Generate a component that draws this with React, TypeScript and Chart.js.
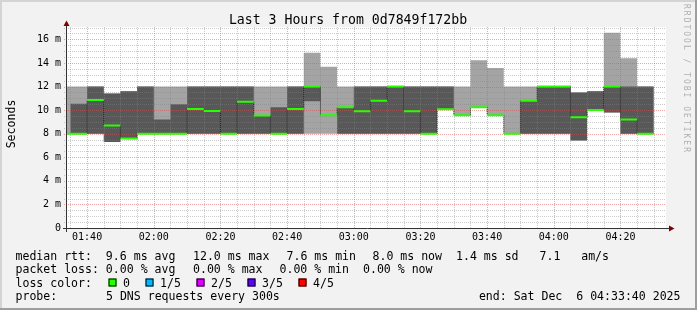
import React, { useEffect, useRef } from 'react';
import { Chart, registerables } from 'chart.js';

Chart.register(...registerables);

// ---------- text ----------
const TITLE = 'Last 3 Hours from 0d7849f172bb';
const Y_TITLE = 'Seconds';
const WATERMARK = 'RRDTOOL / TOBI OETIKER';

// ---------- time frame ----------
const viewStart = '01:33:40';
const viewEnd = '04:33:40';
const dataEnd = '04:30';

// start time of each 5-minute step
const stepStarts = [
  '01:33:40', '01:35', '01:40', '01:45', '01:50', '01:55',
  '02:00', '02:05', '02:10', '02:15', '02:20', '02:25',
  '02:30', '02:35', '02:40', '02:45', '02:50', '02:55',
  '03:00', '03:05', '03:10', '03:15', '03:20', '03:25',
  '03:30', '03:35', '03:40', '03:45', '03:50', '03:55',
  '04:00', '04:05', '04:10', '04:15', '04:20', '04:25',
];

// sorted ping values per step (ms): lowest, 2nd, median, 4th, highest
const pingMin = [8, 8, 8, 7.3, 7.55, 8, 8, 8, 8, 8, 8, 8, 8, 8, 8, 8, 8, 8, 8, 8, 8, 8, 8, 10.07, 9.56, 10.25, 9.56, 8, 8, 8, 8, 7.43, 10.0, 9.8, 8, 8];
const ping2 = [8, 8, 8, 7.3, 7.55, 8, 8, 8, 8, 8, 8, 8, 8, 8, 8, 10.75, 9.56, 8, 8, 8, 8, 8, 8, 10.07, 9.56, 10.25, 9.56, 8, 8, 8, 8, 7.43, 10.0, 9.8, 8, 8];
const median = [8, 8, 10.85, 8.7, 7.6, 8, 8, 8, 10.1, 9.93, 8, 10.7, 9.55, 8, 10.1, 12, 9.56, 10.25, 9.9, 10.8, 12, 9.9, 8, 10.07, 9.56, 10.25, 9.56, 8, 10.8, 12, 12, 9.4, 10.0, 12, 9.2, 8];
const ping4 = [8, 10.55, 12, 11.4, 11.6, 12, 9.2, 10.5, 12, 12, 12, 12, 9.55, 10.24, 12, 12, 9.56, 10.25, 12, 12, 12, 12, 12, 12, 9.56, 10.25, 9.56, 8, 10.8, 12, 12, 11.5, 11.6, 12, 12, 12];
const pingMax = [12, 12, 12, 11.4, 11.6, 12, 12, 12, 12, 12, 12, 12, 12, 12, 12, 14.86, 13.67, 12, 12, 12, 12, 12, 12, 12, 12, 14.24, 13.58, 12, 12, 12, 12, 11.5, 11.6, 16.56, 14.4, 12];

// ---------- axes ----------
const xTickLabels = ['01:40', '02:00', '02:20', '02:40', '03:00', '03:20', '03:40', '04:00', '04:20'];
const yTickLabels = ['0', '2 m', '4 m', '6 m', '8 m', '10 m', '12 m', '14 m', '16 m'];
const yMax = 17.05;

// ---------- legend ----------
const lossColors = ['#26ff00', '#00b8ff', '#dd00ff', '#5e00ff', '#ff0000'];
const lossLabels = ['0', '1/5', '2/5', '3/5', '4/5'];
const rttItems = ['median rtt:  9.6 ms avg', '12.0 ms max', '7.6 ms min', '8.0 ms now', '1.4 ms sd', '7.1   am/s'];
const lossItems = ['packet loss: 0.00 % avg', '0.00 % max', '0.00 % min', '0.00 % now'];
const lossColorTitle = 'loss color:';
const probeItems = ['probe:', '5 DNS requests every 300s'];
const endText = 'end: Sat Dec  6 04:33:40 2025';

// ---------- helpers ----------
const toMin = (s: string) => {
  const p = s.split(':').map(Number);
  return p[0] * 60 + p[1] + (p[2] || 0) / 60;
};
const fmt = (v: number) => {
  const h = Math.floor(v / 60);
  const m = Math.round(v - h * 60);
  return String(h).padStart(2, '0') + ':' + String(m).padStart(2, '0');
};

const xs = stepStarts.map(toMin);
const xEndData = toMin(dataEnd);

const stepSeries = (vals: number[]) => {
  const pts = xs.map((x, i) => ({ x, y: vals[i] }));
  pts.push({ x: xEndData, y: vals[vals.length - 1] });
  return pts;
};

// horizontal pieces only
const segSeries = (vals: number[]) => {
  const pts: { x: number; y: number | null }[] = [];
  xs.forEach((x, i) => {
    const end = i + 1 < xs.length ? xs[i + 1] : xEndData;
    pts.push({ x, y: vals[i] });
    pts.push({ x: end, y: vals[i] });
    pts.push({ x: end, y: null });
  });
  return pts;
};

// vertical joins only, where the value changes between steps
const riseSeries = (vals: number[]) => {
  const pts: { x: number; y: number | null }[] = [];
  for (let i = 1; i < xs.length; i++) {
    if (vals[i] === vals[i - 1]) continue;
    pts.push({ x: xs[i], y: vals[i - 1] });
    pts.push({ x: xs[i], y: vals[i] });
    pts.push({ x: xs[i], y: null });
  }
  return pts;
};

const MONO = '"DejaVu Sans Mono", monospace';
const MAJOR_GRID = 'rgba(222,80,80,0.5)';
const MINOR_GRID = 'rgba(130,130,130,0.42)';

const drawGrid = (chart: any) => {
  const { ctx, chartArea: a } = chart;
  const sx = chart.scales.x;
  const sy = chart.scales.y;
  ctx.save();
  ctx.lineWidth = 1;
  ctx.setLineDash([1, 1]);
  [false, true].forEach((major) => {
    sx.ticks.forEach((t: any) => {
      const isMajor = t.value % 20 === 0;
      if (isMajor !== major) return;
      const px = Math.round(sx.getPixelForValue(t.value)) + 0.5;
      ctx.strokeStyle = isMajor ? MAJOR_GRID : MINOR_GRID;
      ctx.beginPath();
      ctx.moveTo(px, a.top);
      ctx.lineTo(px, a.bottom);
      ctx.stroke();
    });
    sy.ticks.forEach((t: any) => {
      if (t.value === 0) return;
      const isMajor = t.value % 2 === 0;
      if (isMajor !== major) return;
      const py = Math.round(sy.getPixelForValue(t.value)) + 0.5;
      ctx.strokeStyle = isMajor ? MAJOR_GRID : MINOR_GRID;
      ctx.beginPath();
      ctx.moveTo(a.left - 2, py);
      ctx.lineTo(a.right, py);
      ctx.stroke();
    });
  });
  ctx.restore();
};

const rrdPlugin = {
  id: 'rrdLook',
  beforeDraw(chart: any) {
    const { ctx, chartArea: a, width, height } = chart;
    ctx.save();
    ctx.fillStyle = '#f2f2f2';
    ctx.fillRect(0, 0, width, height);
    ctx.fillStyle = '#d4d4d4';
    ctx.fillRect(0, 0, width, 2);
    ctx.fillRect(0, 0, 2, height);
    ctx.fillStyle = '#9e9e9e';
    ctx.fillRect(0, height - 2, width, 2);
    ctx.fillRect(width - 2, 0, 2, height);
    ctx.fillStyle = '#ffffff';
    ctx.fillRect(a.left, a.top, a.right - a.left, a.bottom - a.top);
    ctx.restore();
  },
  afterDatasetDraw(chart: any, args: any) {
    // grid goes over the smoke bands, under the median lines
    if (args.index === 2) drawGrid(chart);
  },
  afterDraw(chart: any) {
    const { ctx, chartArea: a } = chart;
    ctx.save();
    // axes
    ctx.strokeStyle = '#333333';
    ctx.lineWidth = 1;
    ctx.beginPath();
    ctx.moveTo(a.left - 3, a.bottom + 0.5);
    ctx.lineTo(a.right + 6, a.bottom + 0.5);
    ctx.moveTo(a.left + 0.5, a.bottom + 4);
    ctx.lineTo(a.left + 0.5, a.top - 3);
    ctx.stroke();
    // arrows
    ctx.fillStyle = '#7f0000';
    ctx.beginPath();
    ctx.moveTo(a.right + 3, a.bottom - 2.5);
    ctx.lineTo(a.right + 8.5, a.bottom + 0.5);
    ctx.lineTo(a.right + 3, a.bottom + 3.5);
    ctx.closePath();
    ctx.fill();
    ctx.beginPath();
    ctx.moveTo(a.left - 2.5, a.top - 1);
    ctx.lineTo(a.left + 0.5, a.top - 6.5);
    ctx.lineTo(a.left + 3.5, a.top - 1);
    ctx.closePath();
    ctx.fill();

    // title
    ctx.fillStyle = '#000000';
    ctx.font = `13.2px ${MONO}`;
    ctx.textAlign = 'center';
    ctx.textBaseline = 'alphabetic';
    ctx.fillText(TITLE, 348, 23.5);

    // y-axis title
    ctx.save();
    ctx.font = `11.55px ${MONO}`;
    ctx.translate(12, 124);
    ctx.rotate(-Math.PI / 2);
    ctx.textAlign = 'center';
    ctx.textBaseline = 'middle';
    ctx.fillText(Y_TITLE, 0, 0);
    ctx.restore();

    // watermark
    ctx.save();
    ctx.font = `8px ${MONO}`;
    ctx.fillStyle = '#b0b0b0';
    (ctx as any).letterSpacing = '2px';
    ctx.translate(686, 4);
    ctx.rotate(Math.PI / 2);
    ctx.textAlign = 'left';
    ctx.textBaseline = 'middle';
    ctx.fillText(WATERMARK, 0, 0);
    ctx.restore();

    // legend
    ctx.font = `11.55px ${MONO}`;
    ctx.fillStyle = '#000000';
    ctx.textAlign = 'left';
    ctx.textBaseline = 'alphabetic';
    const rttX = [15.5, 193, 286.5, 372.5, 456, 539.5];
    rttItems.forEach((t, i) => ctx.fillText(t, rttX[i], 259.5));
    const lossX = [15.5, 193, 279.5, 363];
    lossItems.forEach((t, i) => ctx.fillText(t, lossX[i], 273));
    ctx.fillText(lossColorTitle, 15.5, 286.5);
    const boxX = [108.5, 145.5, 196.5, 247.5, 298.5];
    lossLabels.forEach((t, i) => {
      ctx.fillStyle = lossColors[i];
      ctx.fillRect(boxX[i], 278.5, 8, 8);
      ctx.strokeStyle = '#000000';
      ctx.lineWidth = 1;
      ctx.strokeRect(boxX[i] + 0.5, 278.5 + 0.5, 7, 7);
      ctx.fillStyle = '#000000';
      ctx.fillText(t, boxX[i] + 14.5, 286.5);
    });
    ctx.fillText(probeItems[0], 15.5, 300);
    ctx.fillText(probeItems[1], 106, 300);
    ctx.textAlign = 'right';
    ctx.fillText(endText, 680.5, 300);
    ctx.restore();
  },
};

export default function App() {
  const ref = useRef<HTMLCanvasElement>(null);

  useEffect(() => {
    const canvas = ref.current;
    if (!canvas) return;
    const xMin = toMin(viewStart);
    const xMax = toMin(viewEnd);

    const hidden = { borderWidth: 0, borderColor: 'rgba(0,0,0,0)', pointRadius: 0, pointHoverRadius: 0, stepped: 'before' as const };

    const chart = new Chart(canvas, {
      type: 'line',
      data: {
        datasets: [
          {
            label: 'median',
            data: segSeries(median),
            borderColor: lossColors[0],
            borderWidth: 2,
            pointRadius: 0,
            spanGaps: false,
            fill: false,
          },
          {
            label: 'median steps',
            data: riseSeries(median),
            borderColor: '#202020',
            borderWidth: 1,
            borderDash: [1, 1],
            pointRadius: 0,
            spanGaps: false,
            fill: false,
          },
          { label: 'p4', data: stepSeries(ping4), ...hidden, fill: '+1', backgroundColor: '#585858' },
          { label: 'p2', data: stepSeries(ping2), ...hidden, fill: false },
          { label: 'max', data: stepSeries(pingMax), ...hidden, fill: '+1', backgroundColor: '#a4a4a4' },
          { label: 'min', data: stepSeries(pingMin), ...hidden, fill: false },
        ] as any,
      },
      options: {
        animation: false,
        responsive: false,
        devicePixelRatio: 1,
        events: [],
        layout: { padding: { left: 0, right: 31, top: 27, bottom: 0 } },
        plugins: {
          legend: { display: false },
          title: { display: false },
          tooltip: { enabled: false },
        },
        scales: {
          x: {
            type: 'linear',
            min: xMin,
            max: xMax,
            afterBuildTicks: (s: any) => {
              const t: { value: number }[] = [];
              for (let v = Math.ceil(xMin / 5) * 5; v < xMax; v += 5) t.push({ value: v });
              s.ticks = t;
            },
            afterFit: (s: any) => {
              s.height = 82;
            },
            grid: { display: false, drawTicks: false },
            border: { display: false },
            ticks: {
              autoSkip: false,
              maxRotation: 0,
              minRotation: 0,
              padding: 3,
              color: '#000000',
              font: { family: MONO, size: 10 },
              callback: (v: any) => {
                const s = fmt(Number(v));
                return xTickLabels.includes(s) ? s : '';
              },
            },
          },
          y: {
            type: 'linear',
            min: 0,
            max: yMax,
            afterBuildTicks: (s: any) => {
              const t: { value: number }[] = [];
              for (let k = 0; k <= 34; k++) t.push({ value: k / 2 });
              s.ticks = t;
            },
            afterFit: (s: any) => {
              s.width = 66;
            },
            grid: { display: false, drawTicks: false },
            border: { display: false },
            ticks: {
              autoSkip: false,
              padding: 5,
              color: '#000000',
              font: { family: MONO, size: 10 },
              callback: (v: any) => {
                const n = Number(v);
                return n % 2 === 0 ? yTickLabels[n / 2] ?? '' : '';
              },
            },
          },
        },
      } as any,
      plugins: [rrdPlugin],
    });
    return () => chart.destroy();
  }, []);

  return (
    <div style={{ position: 'absolute', left: 0, top: 0, width: 697, height: 310 }}>
      <canvas ref={ref} width={697} height={310} style={{ display: 'block', width: 697, height: 310 }} />
    </div>
  );
}
